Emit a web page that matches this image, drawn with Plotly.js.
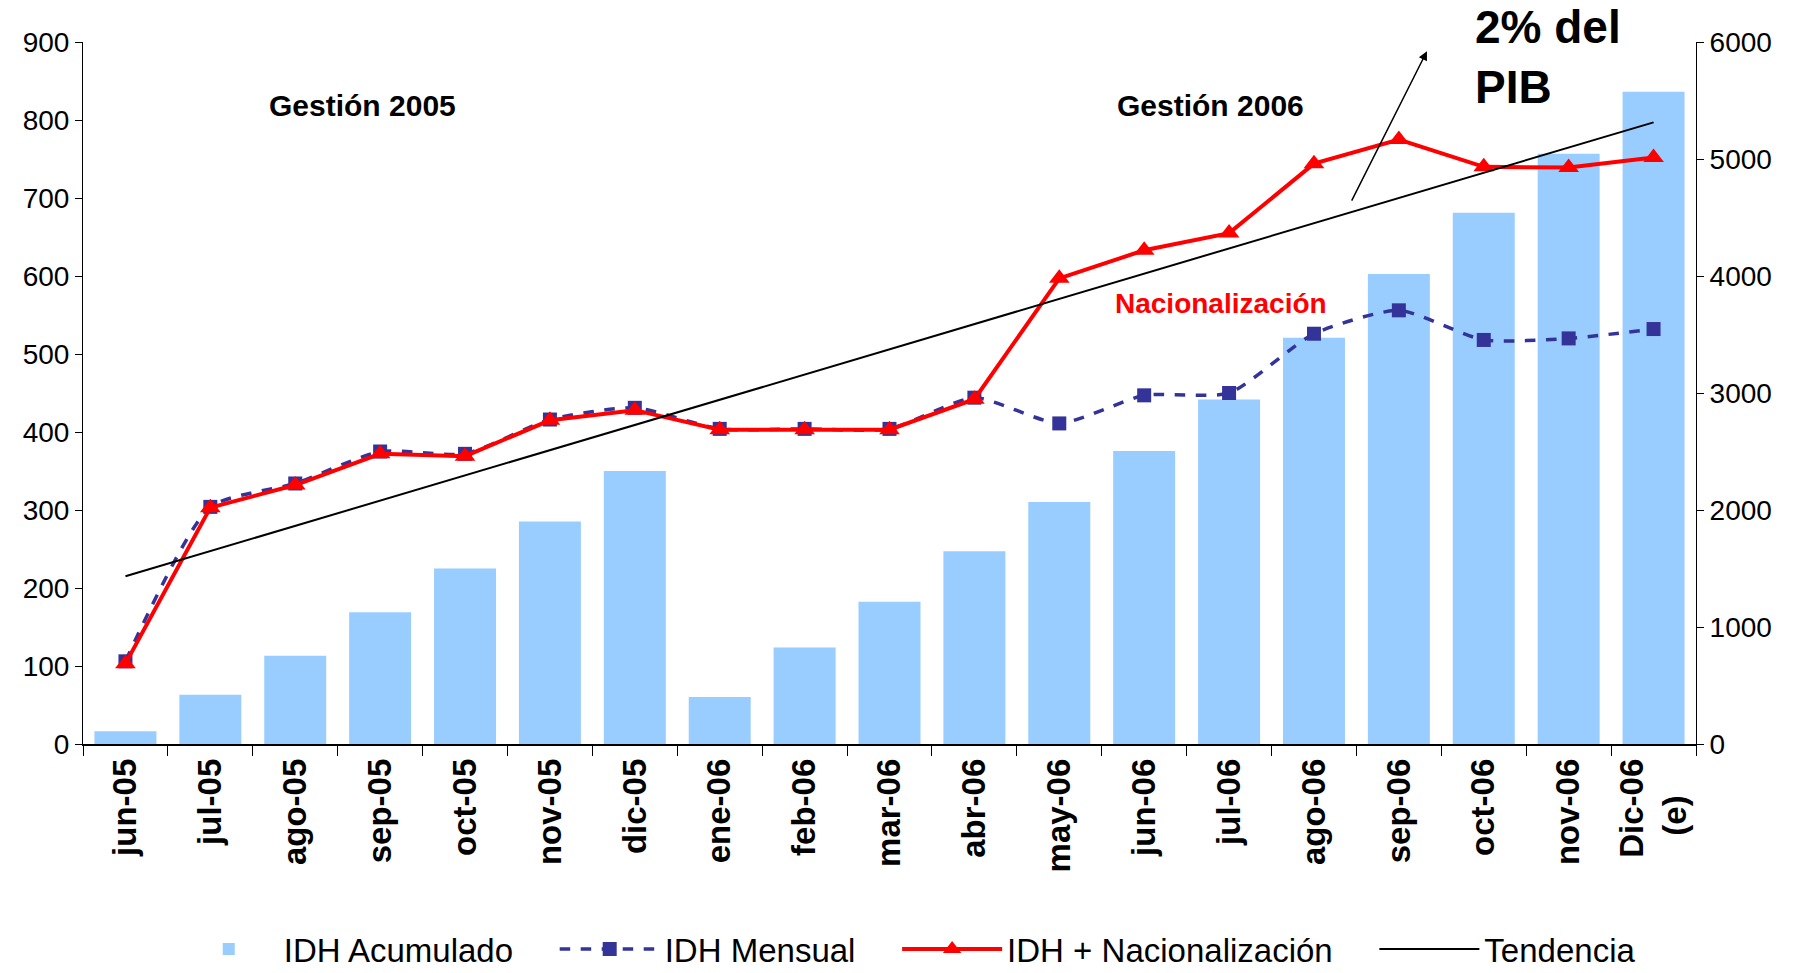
<!DOCTYPE html>
<html>
<head>
<meta charset="utf-8">
<script src="https://cdn.plot.ly/plotly-3.0.1.min.js"></script>
<style>
  html, body { margin: 0; padding: 0; background: #fff; }
  #chart { width: 1796px; height: 973px; }
</style>
</head>
<body>
<div id="chart"></div>
<script>
// months, Dec-06 is an estimate (nbsp keeps "(e)" centred under the rotated label)
const months = ['jun-05', 'jul-05', 'ago-05', 'sep-05', 'oct-05', 'nov-05', 'dic-05',
    'ene-06', 'feb-06', 'mar-06', 'abr-06', 'may-06', 'jun-06', 'jul-06', 'ago-06',
    'sep-06', 'oct-06', 'nov-06', 'Dic-06<br>(e)\u00a0\u00a0\u00a0\u00a0'];

// right axis (bars)
const idhAcumulado = [110, 422, 755, 1127, 1500, 1902, 2333, 402, 824, 1216, 1647,
    2069, 2505, 2945, 3472, 4018, 4540, 5045, 5575];

// left axis (lines)
const idhMensual = [106, 304, 334, 375, 372, 416, 431, 404, 404, 404, 444,
    411, 447, 450, 526, 556, 518, 520, 532];
const idhNacionalizacion = [103, 303, 332, 372, 369, 415, 428, 403, 403, 403, 442,
    597, 633, 655, 744, 775, 740, 739, 752];

// straight trend line, first and last month
const trendMonths = [months[0], months[months.length - 1]];
const trendValues = [215, 797];

const FONT = 'Liberation Sans, Arial, sans-serif';
const PAD = '\u00a0\u00a0\u00a0\u00a0'; // extra room between legend entries

const bars = {
    x: months,
    y: idhAcumulado,
    type: 'bar',
    name: 'IDH Acumulado' + PAD,
    marker: { color: '#99CCFF' },
    yaxis: 'y'
};

const mensual = {
    x: months,
    y: idhMensual,
    type: 'scatter',
    mode: 'lines+markers',
    name: 'IDH Mensual' + PAD,
    line: { color: '#333399', width: 3.5, dash: 'dash', shape: 'spline', smoothing: 0.6 },
    marker: { symbol: 'square', size: 14, color: '#333399' },
    yaxis: 'y2'
};

const nacionalizacion = {
    x: months,
    y: idhNacionalizacion,
    type: 'scatter',
    mode: 'lines+markers',
    name: 'IDH + Nacionalización' + PAD,
    line: { color: '#FF0000', width: 4 },
    marker: { symbol: 'triangle-up', size: 18, color: '#FF0000' },
    yaxis: 'y2'
};

const tendencia = {
    x: trendMonths,
    y: trendValues,
    type: 'scatter',
    mode: 'lines',
    name: 'Tendencia',
    line: { color: '#000000', width: 2 },
    yaxis: 'y2'
};

const layout = {
    width: 1796,
    height: 973,
    margin: { l: 83, r: 100, t: 42, b: 229, autoexpand: false },
    paper_bgcolor: '#ffffff',
    plot_bgcolor: '#ffffff',
    font: { family: FONT, color: '#000000', size: 28 },
    bargap: 0.27,
    showlegend: true,
    legend: {
        orientation: 'h',
        x: 0.511, xanchor: 'center',
        y: -0.292, yanchor: 'middle',
        font: { family: FONT, size: 33, color: '#000000' },
        itemwidth: 100
    },
    xaxis: {
        type: 'category',
        range: [-0.5, 18.5],
        showline: true, linecolor: '#000000', linewidth: 1.5,
        ticks: 'outside', tickson: 'boundaries', ticklen: 10, tickcolor: '#000000',
        tickangle: -90,
        tickfont: { family: FONT, size: 33, weight: 'bold', color: '#000000' },
        showgrid: false,
        zeroline: false
    },
    yaxis: {
        side: 'right',
        range: [0, 6000], dtick: 1000,
        showline: true, linecolor: '#000000', linewidth: 1,
        ticks: 'outside', ticklen: 7, tickcolor: '#000000',
        tickfont: { family: FONT, size: 28 },
        showgrid: false, zeroline: false
    },
    yaxis2: {
        overlaying: 'y',
        side: 'left',
        range: [0, 900], dtick: 100,
        showline: true, linecolor: '#000000', linewidth: 1,
        ticks: 'outside', ticklen: 7, tickcolor: '#000000',
        tickfont: { family: FONT, size: 28 },
        showgrid: false, zeroline: false
    },
    annotations: [
        { text: '<b>Gestión 2005</b>', xref: 'paper', yref: 'paper', x: 0.173, y: 0.936,
          xanchor: 'center', showarrow: false, font: { family: FONT, size: 30 } },
        { text: '<b>Gestión 2006</b>', xref: 'paper', yref: 'paper', x: 0.699, y: 0.936,
          xanchor: 'center', showarrow: false, font: { family: FONT, size: 30 } },
        { text: '<b>Nacionalización</b>', xref: 'paper', yref: 'paper', x: 0.7055, y: 0.628,
          xanchor: 'center', showarrow: false, font: { family: FONT, size: 28, color: '#FF0000' } },
        { text: '<b>2% del<br>PIB</b>', xref: 'paper', yref: 'paper', x: 0.862, y: 0.978,
          xanchor: 'left', yanchor: 'middle', align: 'left', showarrow: false,
          font: { family: FONT, size: 46 } },
        // arrow pointing up to the 2% label
        { text: '', xref: 'paper', yref: 'paper', x: 0.8332, y: 0.987,
          showarrow: true, ax: -76, ay: 151, arrowhead: 2, arrowsize: 1.2,
          arrowwidth: 1.5, arrowcolor: '#000000', standoff: 0 }
    ]
};

Plotly.newPlot('chart', [bars, mensual, nacionalizacion, tendencia], layout,
    { displayModeBar: false, staticPlot: true });
</script>
</body>
</html>
